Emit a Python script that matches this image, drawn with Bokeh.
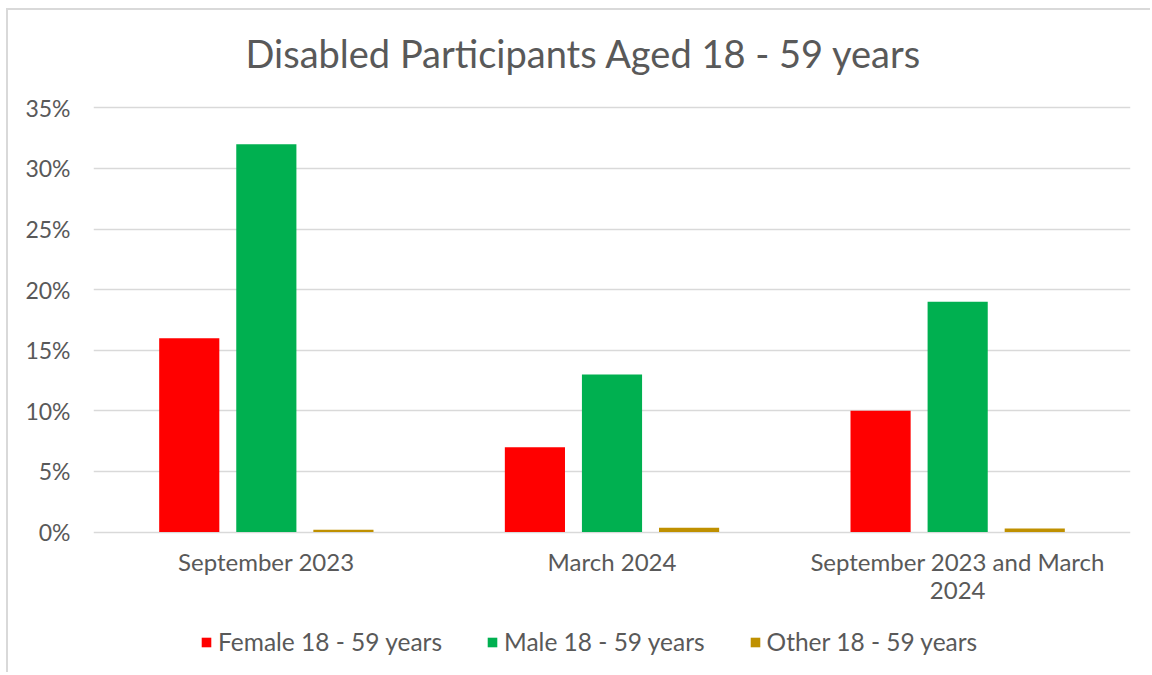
from bokeh.plotting import figure
from bokeh.models import ColumnDataSource, Legend, LegendItem, NumeralTickFormatter, FactorRange, Label
from bokeh.transform import dodge
from bokeh.embed import file_html
from bokeh.resources import INLINE

title = "Disabled Participants Aged 18 - 59 years"
categories = ["September 2023", "March 2024", "September 2023 and March 2024"]
category_labels = ["September 2023", "March 2024", "September 2023 and March\n2024"]
female = [16, 7, 10]
male = [32, 13, 19]
other = [0.2, 0.35, 0.3]
series_names = ["Female 18 - 59 years", "Male 18 - 59 years", "Other 18 - 59 years"]
colors = ["#FF0000", "#00B050", "#BF9000"]
y_ticks = [0, 5, 10, 15, 20, 25, 30, 35]

src = ColumnDataSource(dict(cat=categories, female=[v / 100 for v in female],
                            male=[v / 100 for v in male], other=[v / 100 for v in other]))

FONT = "Lato"
GREY = "#595959"
YMAX = 0.35
PX = 423 / YMAX            # pixels per data unit on the y axis
YMIN = -132 / PX           # room below the axis for category labels and legend
YTOP = YMAX + 97 / PX      # room above the axis for the title

p = figure(x_range=FactorRange(*categories), y_range=(YMIN, YTOP), width=1144, height=664,
           output_backend="svg", toolbar_location=None,
           min_border_left=85, min_border_right=22, min_border_top=0, min_border_bottom=10)
p.margin = (8, 0, 0, 6)
p.styles = {"border-left": "2px solid #d9d9d9", "border-top": "2px solid #d9d9d9"}

# chart title, drawn inside the top of the plot area
p.add_layout(Label(x=1.5 - 28 / 345, y=YMAX + 55 / PX, text=title, text_align="center",
                   text_baseline="alphabetic", text_font=FONT, text_font_size="38px",
                   text_color=GREY))

w = 0.174
r1 = p.vbar(x=dodge("cat", -0.223, range=p.x_range), top="female", bottom=0, width=w, source=src, color=colors[0], line_color=None)
r2 = p.vbar(x=dodge("cat", 0.0, range=p.x_range), top="male", bottom=0, width=w, source=src, color=colors[1], line_color=None)
r3 = p.vbar(x=dodge("cat", 0.223, range=p.x_range), top="other", bottom=0, width=w, source=src, color=colors[2], line_color=None)

p.xgrid.grid_line_color = None
p.ygrid.grid_line_color = "#d9d9d9"
p.ygrid.grid_line_width = 1.5
p.ygrid.ticker = [t / 100 for t in y_ticks]
p.outline_line_color = None

p.yaxis.ticker = [t / 100 for t in y_ticks]
p.yaxis.formatter = NumeralTickFormatter(format="0%")
p.yaxis.axis_line_color = None
p.yaxis.major_tick_line_color = None
p.yaxis.minor_tick_line_color = None
p.yaxis.major_label_text_font = FONT
p.yaxis.major_label_text_font_size = "23px"
p.yaxis.major_label_text_color = GREY
p.yaxis.major_label_standoff = 17

p.xaxis.visible = False

# category labels below the zero line (multi-line for the last one)
for i, lab in enumerate(category_labels):
    p.add_layout(Label(x=i + 0.5, y=-15 / PX, text=lab, text_align="center",
                       text_baseline="top", text_font=FONT, text_font_size="24px",
                       text_color=GREY, text_line_height=0.97))

legend = Legend(items=[LegendItem(label=series_names[0], renderers=[r1]),
                       LegendItem(label=series_names[1], renderers=[r2]),
                       LegendItem(label=series_names[2], renderers=[r3])],
                orientation="horizontal", location=(107, 8),
                label_text_font=FONT, label_text_font_size="24.5px", label_text_color=GREY,
                glyph_width=12, glyph_height=12, label_standoff=6, spacing=44,
                border_line_color=None, background_fill_alpha=0, margin=0, padding=4)
p.add_layout(legend, "center")

open("out.html", "w").write(file_html(p, INLINE))
